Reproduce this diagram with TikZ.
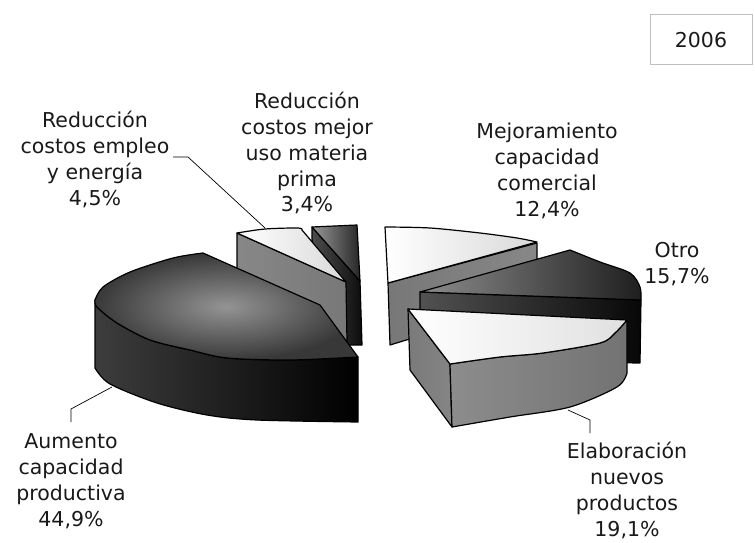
\documentclass[tikz,border=0pt]{standalone}
\usepackage{fontspec}
\setmainfont{DejaVu Sans}
\setlength{\tabcolsep}{0pt}
\begin{document}
\begin{tikzpicture}[x=1pt,y=-1pt,
  edge/.style={draw=black,line width=1.2pt,line join=round},
  lead/.style={draw=black,line width=0.7pt},
  lbl/.style={anchor=base,inner sep=0pt,text=black!90,font=\fontsize{20.5}{26}\selectfont},
  yearbox/.style={draw=black!25,line width=1pt,minimum width=102pt,minimum height=50pt,inner sep=0pt,text=black!90,font=\fontsize{20.5}{26}\selectfont}]
\useasboundingbox (0,0) rectangle (755,543);

% ---- 3.4% slice (back)
\shadedraw[edge,left color=black!70,right color=black!95]
  (312,227) -- (360,281) -- (362,345) -- (347,345) -- (312,240) -- cycle;
\shadedraw[edge,left color=black!40,right color=black!85]
  (312,227) -- (357,225) -- (360,281) -- cycle;

% ---- 4.5% slice
\shadedraw[edge,left color=black!47,right color=black!53]
  (237,233) -- (346,282) -- (347,342) -- (237,290) -- cycle;
\shadedraw[edge,left color=white,right color=black!15]
  (237,233) -- plot[smooth] coordinates {(237,233) (265,229) (298,228) (302,230)} -- (346,282) -- cycle;

% ---- 12.4% slice
\shadedraw[edge,left color=black!53,right color=black!47]
  (388,283) -- (537,243) -- (537,300) -- (390,345) -- cycle;
\shadedraw[edge,left color=white,right color=black!15]
  (385,227) -- plot[smooth] coordinates {(385,227) (430,228) (480,233) (517,238) (537,242)} -- (388,283) -- cycle;

% ---- 15.7% slice
\shadedraw[edge,left color=black!68,right color=black!97]
  (420,292) -- (641,300) -- (640,363) -- (420,360) -- cycle;
\shadedraw[edge,left color=black!45,right color=black!88]
  (420,292) -- (570,250) -- plot[smooth] coordinates {(570,250) (600,262) (630,273) (640,287) (641,300)} -- cycle;

% ---- 19.1% slice
\shadedraw[edge,left color=black!52,right color=black!48]
  (408,309) -- (450,364) -- (452,427) -- (410,370) -- cycle;
\shadedraw[edge,left color=black!45,right color=black!55]
  (450,364) -- plot[smooth] coordinates {(450,364) (500,357) (543,353) (600,343) (615,333) (627,320)} -- (627,373)
  -- plot[smooth] coordinates {(627,373) (617,387) (570,407) (510,417) (452,427)} -- cycle;
\shadedraw[edge,left color=white,right color=black!12]
  (408,309) -- (627,320) -- plot[smooth] coordinates {(627,320) (615,333) (600,343) (543,353) (500,357) (450,364)} -- cycle;

% ---- 44.9% slice (front left)
\shadedraw[edge,left color=black!76,middle color=black!72,right color=black]
  (95,300) -- plot[smooth] coordinates {(95,368) (110,384) (157,403) (207,415) (257,420) (358,422)} -- (358,357)
  -- plot[smooth] coordinates {(358,357) (290,360) (227,358) (190,350) (150,340) (117,323) (97,307) (95,300)} -- cycle;
\shadedraw[edge,inner color=black!42,outer color=black!78]
  (95,300) -- plot[smooth] coordinates {(95,300) (103,287) (130,272) (173,258) (203,253)} -- (320,305) -- (358,357)
  -- plot[smooth] coordinates {(358,357) (290,360) (227,358) (190,350) (150,340) (117,323) (97,307) (95,300)} -- cycle;

% ---- labels
\node[lbl] (l1) at (95,127) {\begin{tabular}[t]{c}Reducción\\costos empleo\\y energía\\4,5\%\end{tabular}};
\node[lbl] (l2) at (307,108) {\begin{tabular}[t]{c}Reducción\\costos mejor\\uso materia\\prima\\3,4\%\end{tabular}};
\node[lbl] (l3) at (547,138) {\begin{tabular}[t]{c}Mejoramiento\\capacidad\\comercial\\12,4\%\end{tabular}};
\node[lbl] (l4) at (677,257) {\begin{tabular}[t]{c}Otro\\15,7\%\end{tabular}};
\node[lbl] (l5) at (71,448) {\begin{tabular}[t]{c}Aumento\\capacidad\\productiva\\44,9\%\end{tabular}};
\node[lbl] (l6) at (627,458) {\begin{tabular}[t]{c}Elaboración\\nuevos\\productos\\19,1\%\end{tabular}};

\node[yearbox] (year) at (701,40) {2006};

% ---- leaders
\coordinate (l1a) at (173,157);
\coordinate (l1b) at (188,157);
\coordinate (s1) at (265,228);
\draw[lead] (l1a) -- (l1b) -- (s1);
\coordinate (l5a) at (71,422);
\coordinate (l5b) at (71,409);
\coordinate (s5) at (112,387);
\draw[lead] (l5a) -- (l5b) -- (s5);
\coordinate (l6a) at (590,433);
\coordinate (l6b) at (590,420);
\coordinate (s6) at (568,410);
\draw[lead] (l6a) -- (l6b) -- (s6);
\end{tikzpicture}
\end{document}
